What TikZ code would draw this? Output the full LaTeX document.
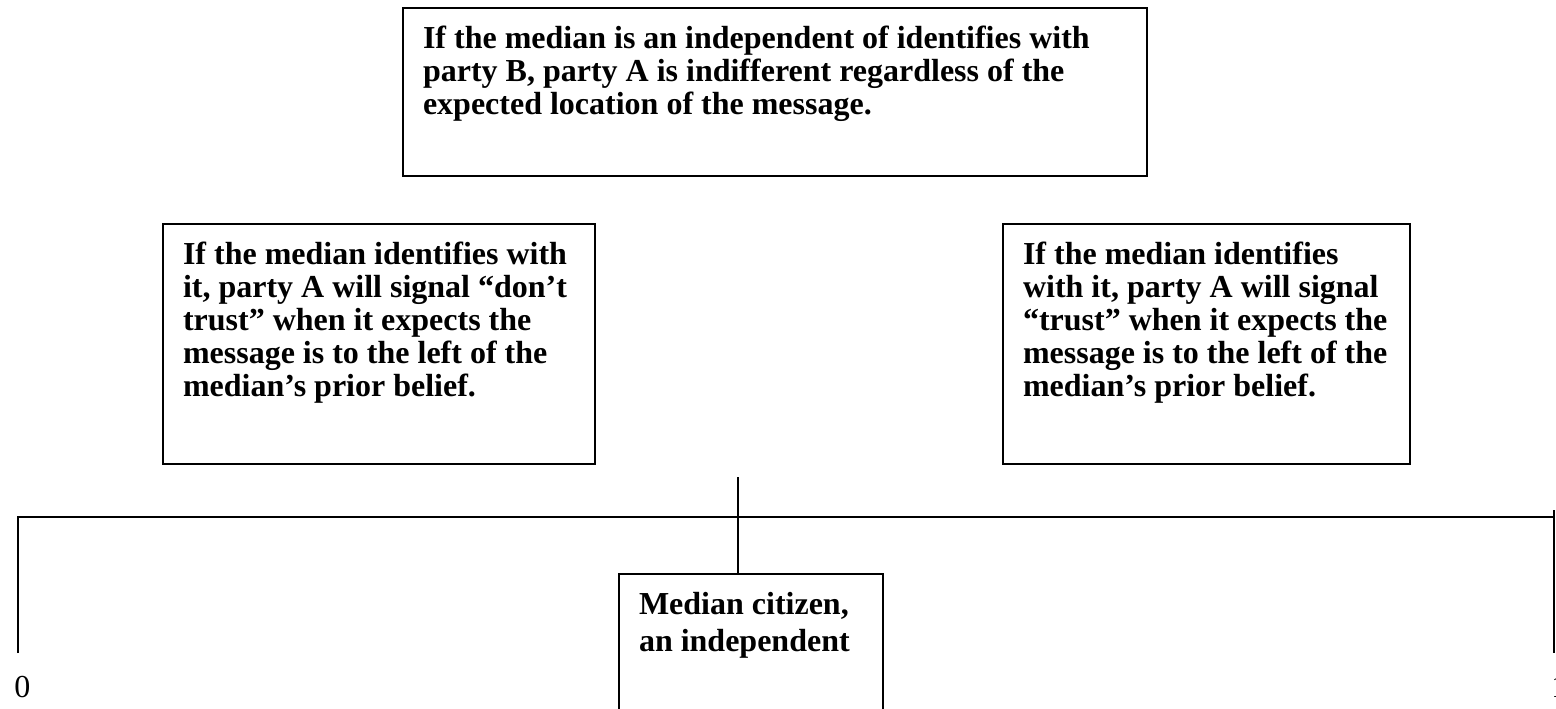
\documentclass[tikz,border=0pt]{standalone}
\usepackage{fontspec}
\setmainfont{Liberation Serif}
\newcommand{\boxtext}[3]{\parbox[c][#2][t]{#1}{#3}}
\begin{document}
\begin{tikzpicture}[x=0.5pt, y=-0.5pt,
	panel/.style={draw, line width=1pt, anchor=north west, inner xsep=10pt, inner ysep=9pt,
		font=\fontsize{16}{16.5}\selectfont\bfseries},
	rule/.style={line width=1pt},
	endlabel/.style={anchor=base west, inner sep=0pt, font=\fontsize{16}{16.5}\selectfont}]
	\useasboundingbox (0, 0) rectangle (1556, 708);
	\clip (0, 0) rectangle (1556, 708);
	
	% statements
	\node[panel] (indiff) at (402, 7) {\boxtext{352pt}{66pt}{If the median is an independent of identifies with\\
		party B, party A is indifferent regardless of the\\
		expected location of the message.}};
	\node[panel] (donttrust) at (162, 223) {\boxtext{196pt}{102pt}{If the median identifies with\\
		it, party A will signal “don’t\\
		trust” when it expects the\\
		message is to the left of the\\
		median’s prior belief.}};
	\node[panel] (trust) at (1002, 223) {\boxtext{183.5pt}{102pt}{If the median identifies\\
		with it, party A will signal\\
		“trust” when it expects the\\
		message is to the left of the\\
		median’s prior belief.}};
	\node[panel, font=\fontsize{16}{18.5}\selectfont\bfseries] (median) at (618, 573) {\boxtext{112pt}{62pt}{Median citizen,\\
		an independent}};
	
	% line from 0 to 1
	\coordinate (lefttop) at (18, 517);
	\coordinate (leftend) at (18, 653);
	\coordinate (righttop) at (1554, 510);
	\coordinate (rightend) at (1554, 653);
	\coordinate (stem) at (738, 477);
	\draw[rule] (leftend) -- (lefttop) -- (lefttop -| rightend);
	\draw[rule] (righttop) -- (rightend);
	\draw[rule] (stem) -- (stem |- median.north);
	
	\node[endlabel] (zero) at (14, 697) {0};
	\node[endlabel] (one) at (1551, 697) {1};
\end{tikzpicture}
\end{document}
